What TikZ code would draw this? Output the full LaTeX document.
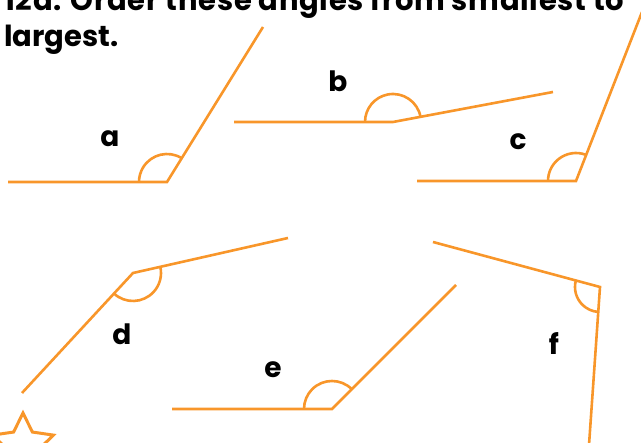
\documentclass[tikz,border=0pt]{standalone}
\usepackage{fontspec}
\setmainfont{Poppins}
\definecolor{ang}{RGB}{248,150,42}
\begin{document}
\begin{tikzpicture}[x=1pt,y=1pt,
  arm/.style={draw=ang,line width=2.6pt},
  arcm/.style={draw=ang,line width=2.6pt},
  lbl/.style={anchor=base,font=\bfseries\fontsize{28}{28}\selectfont,inner sep=0pt},
  ttl/.style={anchor=base west,font=\bfseries\fontsize{29}{29}\selectfont,inner sep=0pt}]
\useasboundingbox (0,0) rectangle (641,443);
% title
\node[ttl] (t1) at (4,432) {\addfontfeatures{LetterSpace=2.5}12a. Order these angles from smallest to};
\node[ttl] (t2) at (4,396) {largest.};
% angle a
\coordinate (aV) at (167,261); \coordinate (a1) at (8,261); \coordinate (a2) at (263,416);
\draw[arm] (a1) -- (aV) -- (a2);
\draw[arcm] ([shift={(58.2:28)}]aV) arc[start angle=58.2,end angle=180,radius=28];
\node[lbl] (la) at (110,296) {a};
% angle b
\coordinate (bV) at (393,321); \coordinate (b1) at (234,321); \coordinate (b2) at (553,351);
\draw[arm] (b1) -- (bV) -- (b2);
\draw[arcm] ([shift={(10.6:28)}]bV) arc[start angle=10.6,end angle=180,radius=28];
\node[lbl] (lb) at (338,351) {b};
% angle c
\coordinate (cV) at (576,262); \coordinate (c1) at (417,262); \coordinate (c2) at (642,431);
\draw[arm] (c1) -- (cV) -- (c2);
\draw[arcm] ([shift={(69:28)}]cV) arc[start angle=69,end angle=180,radius=28];
\node[lbl] (lc) at (518,293) {c};
% angle d
\coordinate (dV) at (133,170); \coordinate (d1) at (288,205); \coordinate (d2) at (22,50);
\draw[arm] (d1) -- (dV) -- (d2);
\draw[arcm] ([shift={(-132.8:28)}]dV) arc[start angle=-132.8,end angle=12.7,radius=28];
\node[lbl] (ld) at (122,98) {d};
% angle e
\coordinate (eV) at (332,34); \coordinate (e1) at (172,34); \coordinate (e2) at (456,158);
\draw[arm] (e1) -- (eV) -- (e2);
\draw[arcm] ([shift={(45:28)}]eV) arc[start angle=45,end angle=180,radius=28];
\node[lbl] (le) at (273,65) {e};
% angle f
\coordinate (fV) at (600,156); \coordinate (f1) at (433,201); \coordinate (f2) at (589,-2);
\draw[arm] (f1) -- (fV) -- (f2);
\draw[arcm] ([shift={(164.9:25)}]fV) arc[start angle=164.9,end angle=266,radius=25];
\node[lbl] (lf) at (554,88) {f};
% star
\begin{scope}[shift={(23,-2)}]
\draw[ang,line width=3pt,line join=miter]
  (90:32) -- (126:16) -- (162:32) -- (198:16) -- (234:32) -- (270:16) -- (306:32) -- (342:16) -- (18:32) -- (54:16) -- cycle;
\end{scope}
\end{tikzpicture}
\end{document}
